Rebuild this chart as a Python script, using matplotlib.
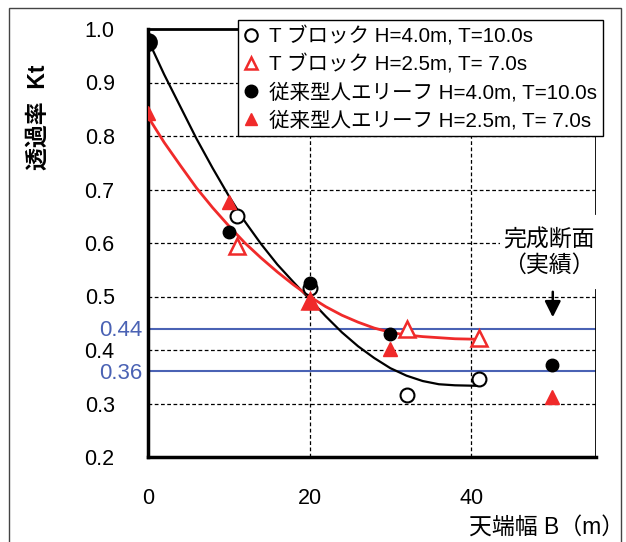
import matplotlib
matplotlib.use("Agg")
import matplotlib.pyplot as plt
from matplotlib.patches import Rectangle

plt.rcParams['font.family'] = ['Liberation Sans', 'Noto Sans CJK JP', 'DejaVu Sans']

# measured points (crest width B [m] vs transmission Kt)
b_tb40 = [0, 11, 20, 32, 41]
kt_tb40 = [0.975, 0.65, 0.515, 0.315, 0.345]

b_tb25 = [11, 20, 32, 41]
kt_tb25 = [0.595, 0.492, 0.44, 0.422]

b_cv40 = [0, 10, 20, 30, 50]
kt_cv40 = [0.975, 0.62, 0.525, 0.43, 0.372]

b_cv25 = [0, 10, 20, 30, 50]
kt_cv25 = [0.843, 0.677, 0.49, 0.402, 0.313]

# trend curves
curve_b = [0, 2, 4, 6, 8, 10, 12, 14, 16, 18, 20, 22, 24, 26, 28,
           30, 32, 34, 36, 38, 41]
curve_black = [0.980, 0.915, 0.855, 0.795, 0.740, 0.688, 0.640, 0.598,
               0.560, 0.527, 0.495, 0.463, 0.433, 0.407, 0.385, 0.366,
               0.352, 0.342, 0.336, 0.334, 0.333]
curve_red = [0.836, 0.788, 0.745, 0.703, 0.666, 0.632, 0.600, 0.572,
             0.546, 0.522, 0.500, 0.481, 0.465, 0.452, 0.441, 0.433,
             0.428, 0.425, 0.423, 0.421, 0.420]

target_levels = [0.44, 0.36]
target_labels = ['0.44', '0.36']

legend_labels = ['T ブロック H=4.0m, T=10.0s',
                 'T ブロック H=2.5m, T= 7.0s',
                 '従来型人エリーフ H=4.0m, T=10.0s',
                 '従来型人エリーフ H=2.5m, T= 7.0s']

red = '#f02a2a'
blue = '#4a62b4'

fig = plt.figure(figsize=(6.26, 5.42), dpi=100)
ax = fig.add_axes([148/626, 1-457/542, 448/626, 428/542])

xmax = 55.45
ax.set_xlim(0, xmax)
ax.set_ylim(0.2, 1.0)

# grid
for y in [0.3, 0.4, 0.5, 0.6, 0.7, 0.8, 0.9]:
    ax.axhline(y, color='black', lw=0.9, ls=(0, (3, 2)), zorder=1)
for x in [20, 40]:
    ax.axvline(x, color='black', lw=0.9, ls=(0, (3, 2)), zorder=1)

# target lines
for lv, lab in zip(target_levels, target_labels):
    ax.axhline(lv, color=blue, lw=1.5, zorder=2)
    ax.text(-6/448, lv - 0.004, lab, transform=ax.get_yaxis_transform(),
            ha='right', va='center', color=blue, fontsize=16)

# curves
ax.plot(curve_b, curve_black, color='black', lw=1.6, zorder=3)
ax.plot(curve_b, curve_red, color=red, lw=2.0, zorder=3)

# markers
h1, = ax.plot(b_tb40, kt_tb40, 'o', ms=10, mfc='white', mec='black', mew=1.5, ls='none', zorder=4)
h2, = ax.plot(b_tb25, kt_tb25, '^', ms=11, mfc='white', mec=red, mew=1.8, ls='none', zorder=4)
h3, = ax.plot(b_cv40, kt_cv40, 'o', ms=9, color='black', ls='none', zorder=5)
h4, = ax.plot(b_cv25, kt_cv25, '^', ms=10, color=red, ls='none', zorder=5)
ax.plot(b_tb40[:1], kt_tb40[:1], 'o', ms=12, mfc='none', mec='black', mew=1.5, zorder=6)

# spines
for s in ['left', 'bottom']:
    ax.spines[s].set_linewidth(2.5)
ax.spines['top'].set_linewidth(2.0)
ax.spines['right'].set_visible(False)
ax.axvline(xmax, ymin=0, ymax=(0.512-0.2)/0.8, color='black', lw=2.0, zorder=6)
ax.axvline(xmax, ymin=(0.656-0.2)/0.8, ymax=1, color='black', lw=2.0, zorder=6)

# ticks
ax.set_xticks([0, 20, 40])
ax.set_yticks([0.2, 0.3, 0.4, 0.5, 0.6, 0.7, 0.8, 0.9, 1.0])
ax.set_yticklabels(['0.2', '0.3', '0.4', '0.5', '0.6', '0.7', '0.8', '0.9', '1.0'])
ax.tick_params(axis='both', length=0, labelsize=15.5)
ax.tick_params(axis='x', pad=22)
ax.tick_params(axis='y', pad=24)

# labels
ax.set_xlabel('天端幅 B（m）', fontsize=16.5, ha='right', va='center')
ax.xaxis.set_label_coords((624-148)/448, (457-527)/428)
ax.set_ylabel('透過率  Kt', fontsize=16.5, va='center', fontweight='bold')
ax.yaxis.set_label_coords((38-148)/448, (457-117)/428)

# completed section note
ax.text(49.6, 0.582, '完成断面\n（実績）', ha='center', va='center', fontsize=16.5,
        linespacing=1.15, zorder=7,
        bbox=dict(facecolor='white', edgecolor='none', pad=2))
ax.annotate('', xy=(50.1, 0.456), xytext=(50.1, 0.514),
            arrowprops=dict(arrowstyle='-|>', color='black', lw=1.8, mutation_scale=24),
            zorder=7)

leg = ax.legend([h1, h2, h3, h4], legend_labels, loc='upper right',
                bbox_to_anchor=(603/626, 1-20/542), bbox_transform=fig.transFigure,
                fontsize=14.8, frameon=True, fancybox=False, framealpha=1,
                edgecolor='black', borderaxespad=0, handlelength=0.7,
                handletextpad=0.5, labelspacing=0.4, borderpad=0.3)
leg.get_frame().set_linewidth(1.0)
leg.set_zorder(10)
for h in leg.legend_handles:
    h.set_markersize(9)

# outer frame
fig.patches.append(Rectangle((9/626, -0.05), 612/626, 1-8/542+0.05,
                             transform=fig.transFigure, fill=False,
                             edgecolor='#444444', lw=1.0))

fig.savefig('out.png', dpi=100)
